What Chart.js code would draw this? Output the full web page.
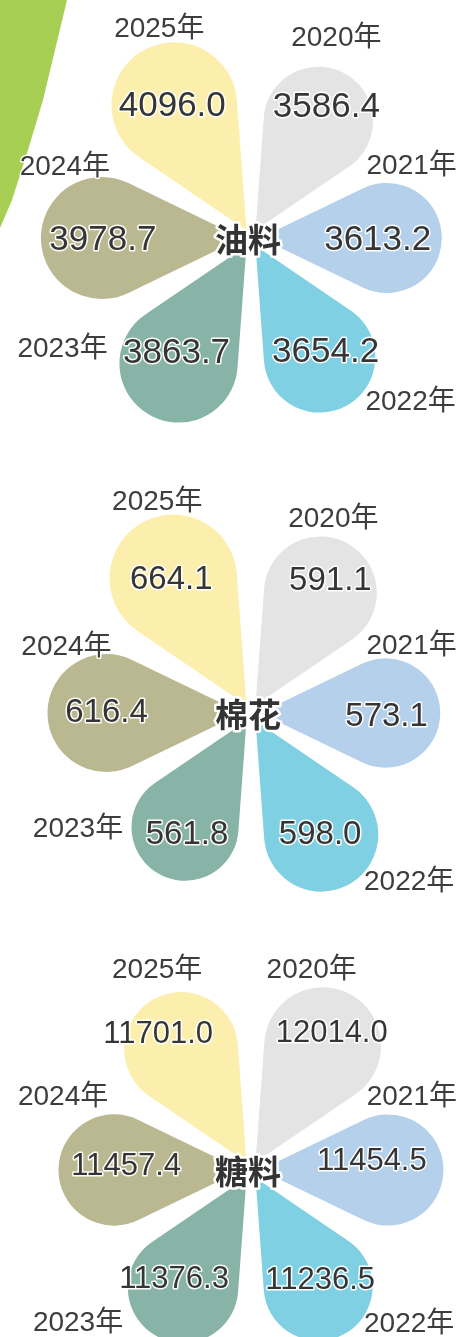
<!DOCTYPE html>
<html>
<head>
<meta charset="utf-8">
<script src="https://cdn.jsdelivr.net/npm/chart.js@4.4.1/dist/chart.umd.min.js"></script>
<style>
  html, body { margin: 0; padding: 0; background: #fff; width: 459px; height: 1337px; overflow: hidden; }
  body { position: relative; }
  canvas { position: absolute; left: 0; }
  .leaf { position: absolute; left: 0; top: 0; width: 70px; height: 230px; background: #a7cf53;
          clip-path: polygon(0 0, 67px 0, 55px 50px, 43px 100px, 28px 150px, 12px 200px, 0 228px); }
</style>
</head>
<body>
<div class="leaf"></div>
<canvas id="oil" width="459" height="476" style="top:0"></canvas>
<canvas id="cotton" width="459" height="476" style="top:475px"></canvas>
<canvas id="sugar" width="459" height="476" style="top:932px"></canvas>
<script>
// data, order 2020 -> 2025 (clockwise from upper right)
const years = ['2020年', '2021年', '2022年', '2023年', '2024年', '2025年'];
const oilValues = [3586.4, 3613.2, 3654.2, 3863.7, 3978.7, 4096.0];
const cottonValues = [591.1, 573.1, 598.0, 561.8, 616.4, 664.1];
const sugarValues = [12014.0, 11454.5, 11236.5, 11376.3, 11457.4, 11701.0];
const colors = ['#e4e4e4', '#b4d0eb', '#7fd0e2', '#87b4a6', '#bab891', '#fcefae'];

// petal shape: teardrop, tip near centre
const TIP = 9, SIN_H = 0.435, H = Math.asin(SIN_H);

// label nudges (px) from the round end of each petal, per flower
const oilLayout = {
  value: [[8, -14], [-9, 2], [6, -4], [-2, -10], [1, 2], [-2, 1]],
  year: [[18, -83], [25, -72], [91, 45], [-116, -14], [-37, -71], [-15, -76]]
};
const cottonLayout = {
  value: [[10, -12], [1, 4], [-1, 0], [2, 8], [0, 0], [-2, 2]],
  year: [[13, -74], [26, -67], [88, 48], [-107, 2], [-40, -66], [-16, -76]]
};
const sugarLayout = {
  value: [[9, -12], [-16, -9], [2, -6], [-9, -8], [12, -4], [-23, -15]],
  year: [[-11, -76], [24, -73], [91, 38], [-105, 36], [-51, -73], [-24, -79]]
};

function geom(arc) {
  const th = (arc.startAngle + arc.endAngle) / 2;
  const d = (arc.outerRadius - TIP) / (1 + SIN_H);
  const ux = Math.cos(th), uy = Math.sin(th);
  return {
    th, r: d * SIN_H,
    tx: arc.x + ux * TIP, ty: arc.y + uy * TIP,
    ox: arc.x + ux * (TIP + d), oy: arc.y + uy * (TIP + d)
  };
}

function haloText(ctx, txt, x, y, halo) {
  if (halo) {
    ctx.lineJoin = 'round';
    ctx.strokeStyle = 'rgba(255,255,255,0.95)';
    ctx.lineWidth = halo;
    ctx.strokeText(txt, x, y);
  }
  ctx.fillText(txt, x, y);
}

const petalPlugin = {
  id: 'petals',
  beforeDatasetDraw(chart, args) {
    const ctx = chart.ctx;
    const meta = chart.getDatasetMeta(args.index);
    meta.data.forEach((arc, i) => {
      const g = geom(arc);
      ctx.save();
      ctx.beginPath();
      ctx.moveTo(g.tx, g.ty);
      ctx.arc(g.ox, g.oy, g.r, g.th - Math.PI / 2 - H, g.th + Math.PI / 2 + H, false);
      ctx.closePath();
      ctx.fillStyle = chart.data.datasets[args.index].backgroundColor[i];
      ctx.fill();
      ctx.restore();
    });
    return false;
  },
  afterDatasetsDraw(chart, args, opts) {
    const ctx = chart.ctx;
    const meta = chart.getDatasetMeta(0);
    const vals = chart.data.datasets[0].data;
    const lay = opts.layout;
    ctx.save();
    ctx.textAlign = 'center';
    ctx.textBaseline = 'middle';
    meta.data.forEach((arc, i) => {
      const g = geom(arc);
      ctx.fillStyle = '#353535';
      ctx.font = opts.valuePx + 'px "Liberation Sans", Arial, sans-serif';
      haloText(ctx, vals[i].toFixed(1), g.ox + lay.value[i][0], g.oy + lay.value[i][1], 3);
      ctx.fillStyle = '#3d3d3d';
      ctx.font = '28px "Liberation Sans", "Noto Sans CJK SC", sans-serif';
      haloText(ctx, chart.data.labels[i], g.ox + lay.year[i][0], g.oy + lay.year[i][1], 3);
    });
    const c = meta.data[0];
    ctx.fillStyle = '#333';
    ctx.font = 'bold 33px "Noto Sans CJK SC", sans-serif';
    haloText(ctx, opts.title, c.x - 3, c.y + 1, 5);
    ctx.restore();
  }
};

function flower(id, values, max, title, valuePx, layout) {
  return new Chart(document.getElementById(id), {
    type: 'polarArea',
    data: { labels: years, datasets: [{ data: values, backgroundColor: colors, borderWidth: 0 }] },
    options: {
      responsive: false,
      animation: false,
      layout: { padding: { left: 44 } },
      scales: { r: { display: false, min: 0, max: max } },
      plugins: {
        legend: { display: false },
        tooltip: { enabled: false },
        petals: { title: title, valuePx: valuePx, layout: layout }
      }
    },
    plugins: [petalPlugin]
  });
}

flower('oil', oilValues, 3920, '油料', 35, oilLayout);
flower('cotton', cottonValues, 627, '棉花', 33, cottonLayout);
flower('sugar', sugarValues, 12320, '糖料', 31, sugarLayout);
</script>
</body>
</html>
